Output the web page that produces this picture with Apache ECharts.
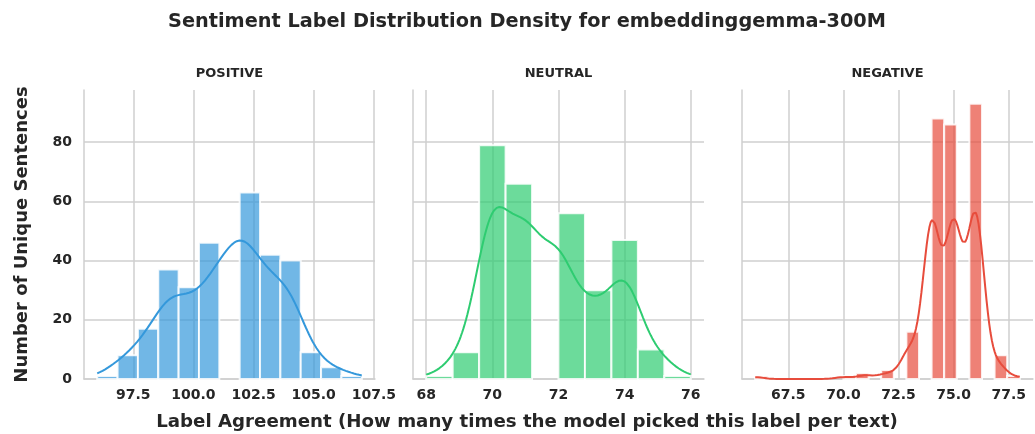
<!DOCTYPE html>
<html>
<head>
<meta charset="utf-8">
<script src="https://cdn.jsdelivr.net/npm/echarts@6/dist/echarts.min.js"></script>
<style>
  html, body { margin: 0; padding: 0; background: #ffffff; }
  #chart { width: 1035px; height: 434px; }
</style>
</head>
<body>
<div id="chart"></div>
<script>
// Label agreement value -> number of unique sentences, one pair of arrays per sentiment
const positiveValues = [96, 97, 98, 99, 100, 101, 102, 103, 104, 105, 106, 107];
const positiveCounts = [1, 8, 17, 37, 31, 46, 63, 42, 40, 9, 4, 1];
const neutralValues = [68, 69, 70, 71, 72, 73, 74, 75, 76];
const neutralCounts = [1, 9, 79, 66, 56, 30, 47, 10, 1];
const negativeValues = [66, 70, 71, 72, 73, 74, 75, 76, 77, 78];
const negativeCounts = [1, 1, 2, 3, 16, 88, 86, 93, 8, 1];

// Histogram bin counts per panel
const binCounts = [13, 10, 21];

// Tick labels
const positiveTicks = [97.5, 100, 102.5, 105, 107.5];
const neutralTicks = [68, 70, 72, 74, 76];
const negativeTicks = [67.5, 70, 72.5, 75, 77.5];
const countTicks = [0, 20, 40, 60, 80];

const panelTitles = ['POSITIVE', 'NEUTRAL', 'NEGATIVE'];
const panelColors = ['#3498db', '#2ecc71', '#e74c3c'];
const panelFill = ['rgba(52,152,219,0.7)', 'rgba(46,204,113,0.7)', 'rgba(231,76,60,0.7)'];
const tickDecimals = [1, 0, 1];

const panels = [
  { values: positiveValues, counts: positiveCounts, ticks: positiveTicks },
  { values: neutralValues, counts: neutralCounts, ticks: neutralTicks },
  { values: negativeValues, counts: negativeCounts, ticks: negativeTicks }
];

// Equal-width bins between the smallest and largest value (last bin closed)
function histogram(values, counts, nBins) {
  const lo = Math.min(...values), hi = Math.max(...values);
  const w = (hi - lo) / nBins;
  const bins = [];
  for (let i = 0; i < nBins; i++) bins.push([lo + i * w, lo + (i + 1) * w, 0]);
  values.forEach((v, k) => {
    let i = Math.floor((v - lo) / w + 1e-9);
    if (i >= nBins) i = nBins - 1;
    bins[i][2] += counts[k];
  });
  return { bins: bins.filter(b => b[2] > 0), width: w, lo, hi };
}

// Gaussian KDE (Scott's rule), scaled to the histogram's count axis
function kdeCurve(values, counts, lo, hi, binWidth) {
  let n = 0, sum = 0;
  values.forEach((v, k) => { n += counts[k]; sum += v * counts[k]; });
  const mean = sum / n;
  let ss = 0;
  values.forEach((v, k) => { ss += counts[k] * (v - mean) * (v - mean); });
  const sd = Math.sqrt(ss / (n - 1));
  const bw = sd * Math.pow(n, -0.2);
  const norm = 1 / (bw * Math.sqrt(2 * Math.PI));
  const pts = [];
  const gridSize = 200;
  for (let g = 0; g < gridSize; g++) {
    const x = lo + (hi - lo) * g / (gridSize - 1);
    let d = 0;
    values.forEach((v, k) => {
      const z = (x - v) / bw;
      d += counts[k] * norm * Math.exp(-0.5 * z * z);
    });
    pts.push([x, d * binWidth]);
  }
  return pts;
}

const hists = panels.map((p, i) => histogram(p.values, p.counts, binCounts[i]));
const maxCount = Math.max(...hists.map(h => Math.max(...h.bins.map(b => b[2]))));
const yMax = maxCount * 1.05;

const gridLefts = [84, 413, 742];
const gridWidth = 291;
const textColor = '#262626';
const lineColor = '#cfcfcf';

const grids = [], xAxes = [], yAxes = [], series = [];

panels.forEach((p, i) => {
  const h = hists[i];
  const pad = (h.hi - h.lo) * 0.05;
  grids.push({ left: gridLefts[i], top: 90, width: gridWidth, height: 289, containLabel: false });
  xAxes.push({
    type: 'value', gridIndex: i,
    min: h.lo - pad, max: h.hi + pad,
    axisLine: { show: true, lineStyle: { color: lineColor, width: 1.5 } },
    axisTick: { show: false, customValues: p.ticks },
    axisLabel: {
      customValues: p.ticks, margin: 9,
      color: textColor, fontFamily: 'DejaVu Sans', fontWeight: 'bold', fontSize: 14,
      formatter: v => Number(v).toFixed(tickDecimals[i])
    },
    splitLine: { show: true, lineStyle: { color: lineColor, width: 1.5 } }
  });
  yAxes.push({
    type: 'value', gridIndex: i,
    min: 0, max: yMax,
    axisLine: { show: true, lineStyle: { color: lineColor, width: 1.5 } },
    axisTick: { show: false, customValues: countTicks },
    axisLabel: {
      show: i === 0, customValues: countTicks, margin: 12,
      color: textColor, fontFamily: 'DejaVu Sans', fontWeight: 'bold', fontSize: 14
    },
    splitLine: { show: true, lineStyle: { color: lineColor, width: 1.5 } }
  });
  series.push({
    type: 'custom', xAxisIndex: i, yAxisIndex: i,
    data: h.bins,
    encode: { x: [0, 1], y: 2 },
    renderItem: function (params, api) {
      const p0 = api.coord([api.value(0), api.value(2)]);
      const p1 = api.coord([api.value(1), 0]);
      return {
        type: 'rect',
        shape: { x: p0[0], y: p0[1], width: p1[0] - p0[0], height: p1[1] - p0[1] },
        style: { fill: panelFill[i], stroke: 'rgba(255,255,255,0.85)', lineWidth: 2 }
      };
    },
    z: 2
  });
  series.push({
    type: 'line', xAxisIndex: i, yAxisIndex: i,
    data: kdeCurve(p.values, p.counts, h.lo, h.hi, h.width),
    showSymbol: false, smooth: false,
    lineStyle: { color: panelColors[i], width: 2 },
    z: 3
  });
});

const graphics = [
  {
    type: 'text', x: 527, y: 22,
    style: { text: 'Sentiment Label Distribution Density for embeddinggemma-300M',
      fill: textColor, font: 'bold 19.3px "DejaVu Sans"', textAlign: 'center', textVerticalAlign: 'middle' }
  },
  {
    type: 'text', x: 527, y: 422,
    style: { text: 'Label Agreement (How many times the model picked this label per text)',
      fill: textColor, font: 'bold 18.2px "DejaVu Sans"', textAlign: 'center', textVerticalAlign: 'middle' }
  },
  {
    type: 'text', x: 22, y: 234.5, rotation: Math.PI / 2,
    style: { text: 'Number of Unique Sentences',
      fill: textColor, font: 'bold 18px "DejaVu Sans"', textAlign: 'center', textVerticalAlign: 'middle' }
  }
];
panelTitles.forEach((t, i) => {
  graphics.push({
    type: 'text', x: gridLefts[i] + gridWidth / 2, y: 73.5,
    style: { text: t, fill: textColor, font: 'bold 13px "DejaVu Sans"', textAlign: 'center', textVerticalAlign: 'middle' }
  });
});

const chart = echarts.init(document.getElementById('chart'), null, { renderer: 'canvas' });
chart.setOption({
  animation: false,
  backgroundColor: '#ffffff',
  grid: grids,
  xAxis: xAxes,
  yAxis: yAxes,
  series: series,
  graphic: graphics
});
</script>
</body>
</html>
